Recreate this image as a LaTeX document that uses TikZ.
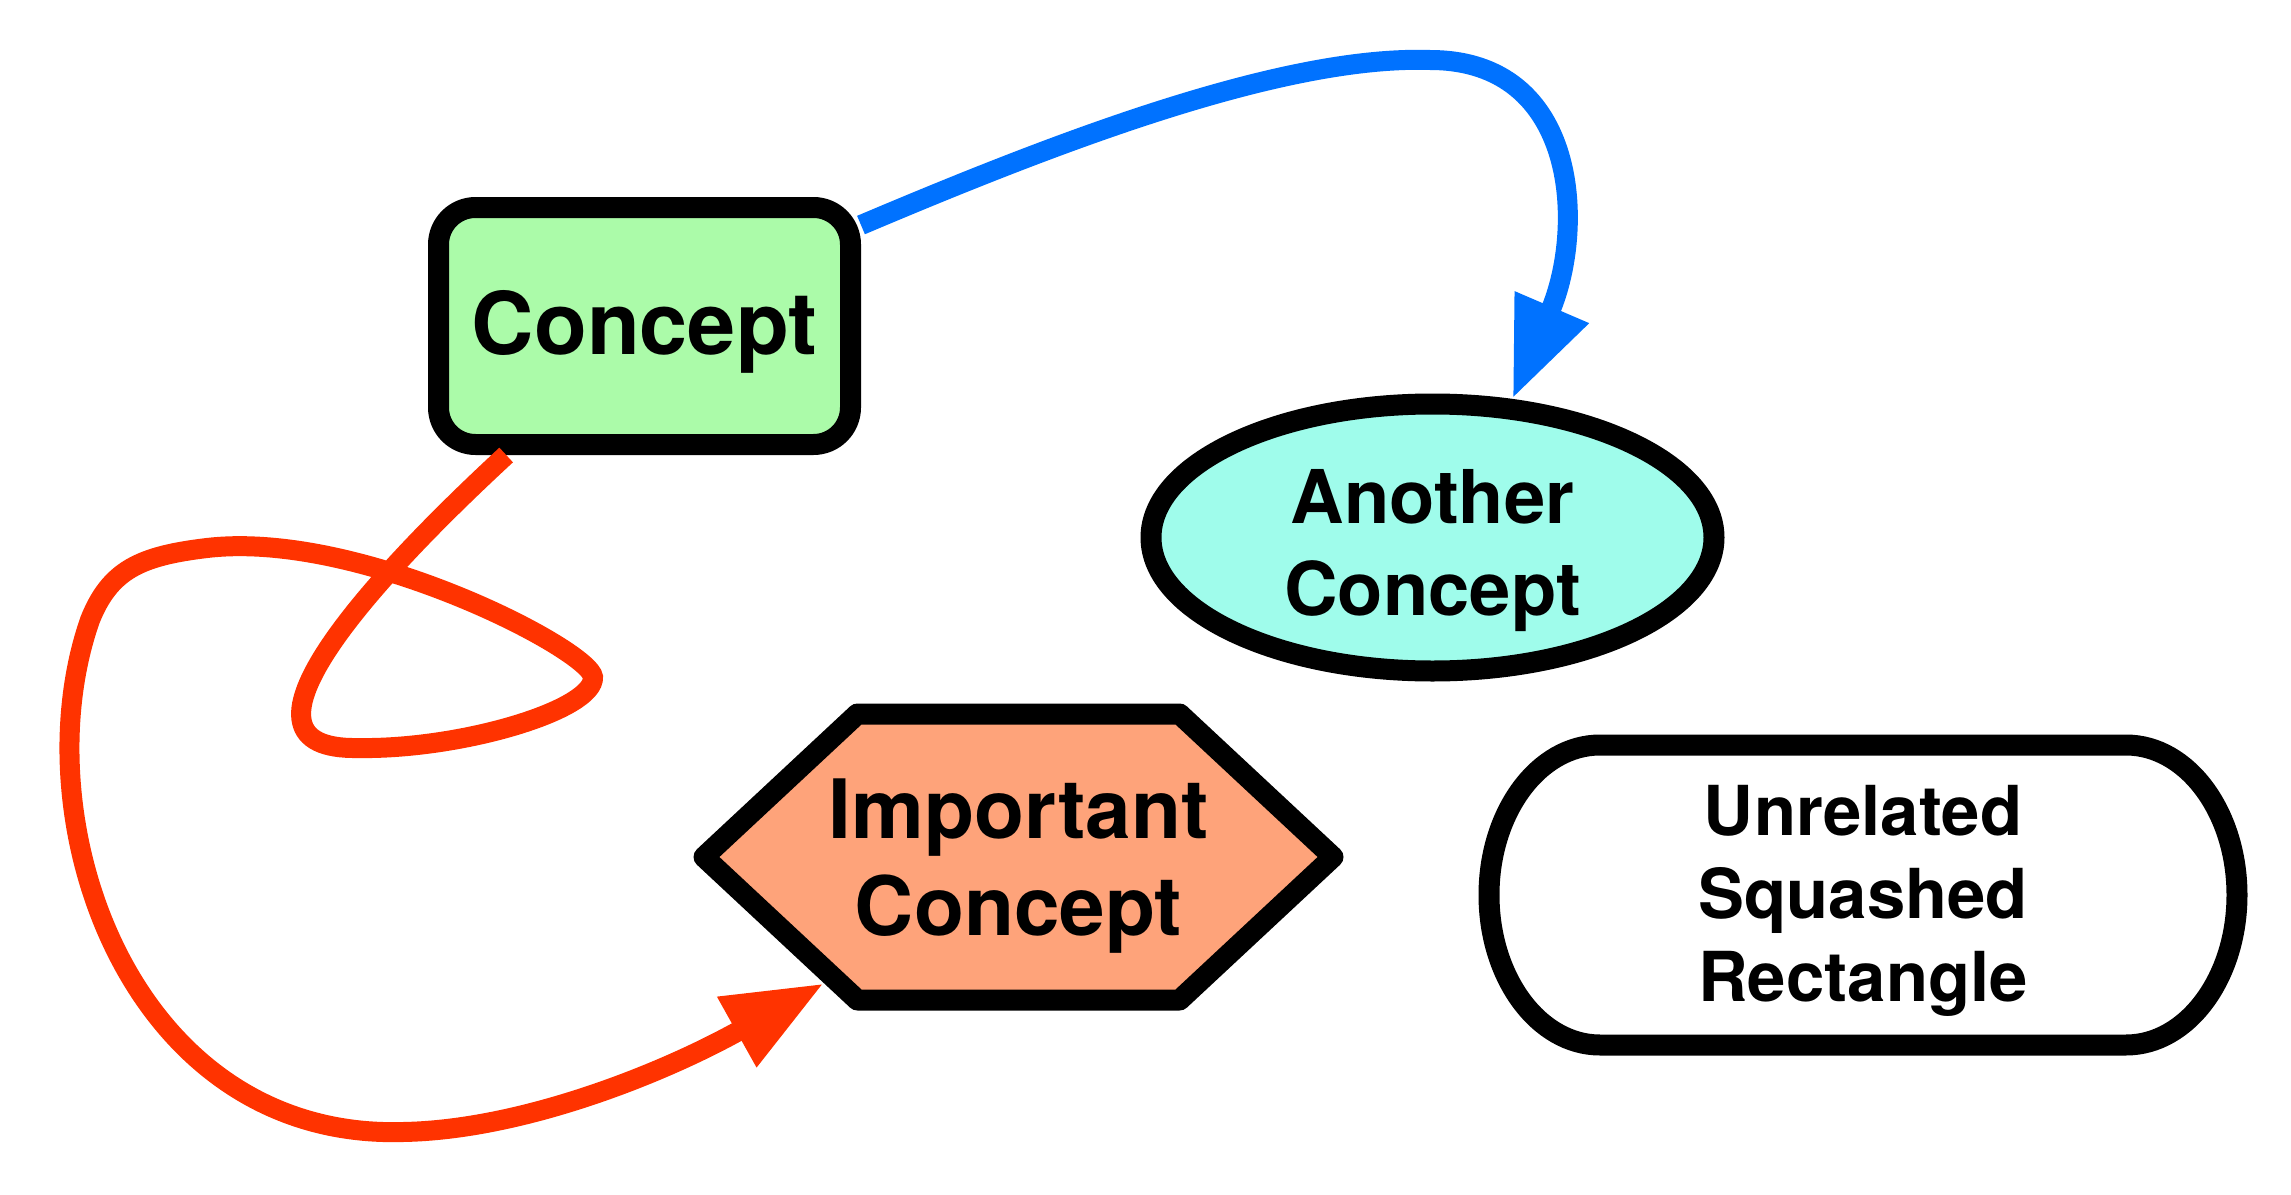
\documentclass[tikz,border=0pt]{standalone}
\usepackage{fontspec}
\setmainfont{TeX Gyre Heros}
\usetikzlibrary{arrows.meta, shapes.geometric, shapes.symbols}
\definecolor{conceptgreen}{HTML}{ABFBA9}
\definecolor{anothercyan}{HTML}{9FFCEB}
\definecolor{importantsalmon}{HTML}{FEA37A}
\definecolor{linkblue}{HTML}{0072FF}
\definecolor{linkred}{HTML}{FF3300}

\begin{document}
\begin{tikzpicture}[
  shapeline/.style={draw, line width=2.1mm, line join=round},
  link/.style={line width=2mm, -{Triangle[length=10mm, width=7.5mm]}}
]
  \useasboundingbox (0,0) rectangle (22.91,-11.95);

  % Shapes
  \node[shapeline, fill=conceptgreen, rounded corners=3.7mm, minimum width=4.12cm, minimum height=2.37cm,
        font=\bfseries\fontsize{24.6}{29}\selectfont] (concept) at (6.445,-3.26) {\rule{0pt}{0.76cm}Concept};
  \node[shapeline, fill=anothercyan, ellipse, inner sep=0pt, minimum width=5.63cm, minimum height=2.67cm,
        align=center, font=\bfseries\fontsize{21.1}{26.2}\selectfont] (another) at (14.325,-5.375)
        {\rule{0pt}{0.8cm}Another\\Concept};
  \node[shapeline, fill=importantsalmon, signal, signal to=west and east, signal pointer angle=86, inner sep=0pt,
        minimum width=6.29cm, minimum height=2.86cm,
        align=center, font=\bfseries\fontsize{23.3}{27.6}\selectfont] (imp) at (10.185,-8.57)
        {\rule{0pt}{0.78cm}\makebox[0pt]{Important}\\\makebox[0pt]{Concept}};
  \node[inner sep=0pt, outer sep=0pt, minimum width=5.26cm, minimum height=3cm,
        align=center, font=\bfseries\fontsize{19.6}{23.6}\selectfont] (unrel) at (18.63,-8.95)
        {\rule{0pt}{0.62cm}Unrelated\\Squashed\\Rectangle};
  \draw[shapeline] (unrel.north west) -- (unrel.north east)
    arc[start angle=90, end angle=-90, x radius=1.11, y radius=1.5] -- (unrel.south west)
    arc[start angle=270, end angle=90, x radius=1.11, y radius=1.5] -- cycle;

  % Links
  \draw[link, linkblue] (concept.25) .. controls (10.5,-1.45) and (12.8,-0.55) .. (14.3,-0.6)
    .. controls (15.8,-0.6) and (15.85,-2.3) .. (another.60);
  \draw[link, linkred] (concept.223) .. controls (3.6,-5.9) and (2.2,-7.5) .. (3.57,-7.48)
    .. controls (4.6,-7.5) and (5.95,-7.1) .. (5.93,-6.77)
    .. controls (5.9,-6.5) and (3.6,-5.3) .. (2.07,-5.48)
    .. controls (1.4,-5.56) and (1.1,-5.7) .. (0.9,-6.2)
    .. controls (0.2,-8.2) and (1.3,-11.4) .. (4.03,-11.32)
    .. controls (5.2,-11.3) and (6.6,-10.75) .. (imp.213);
\end{tikzpicture}
\end{document}
